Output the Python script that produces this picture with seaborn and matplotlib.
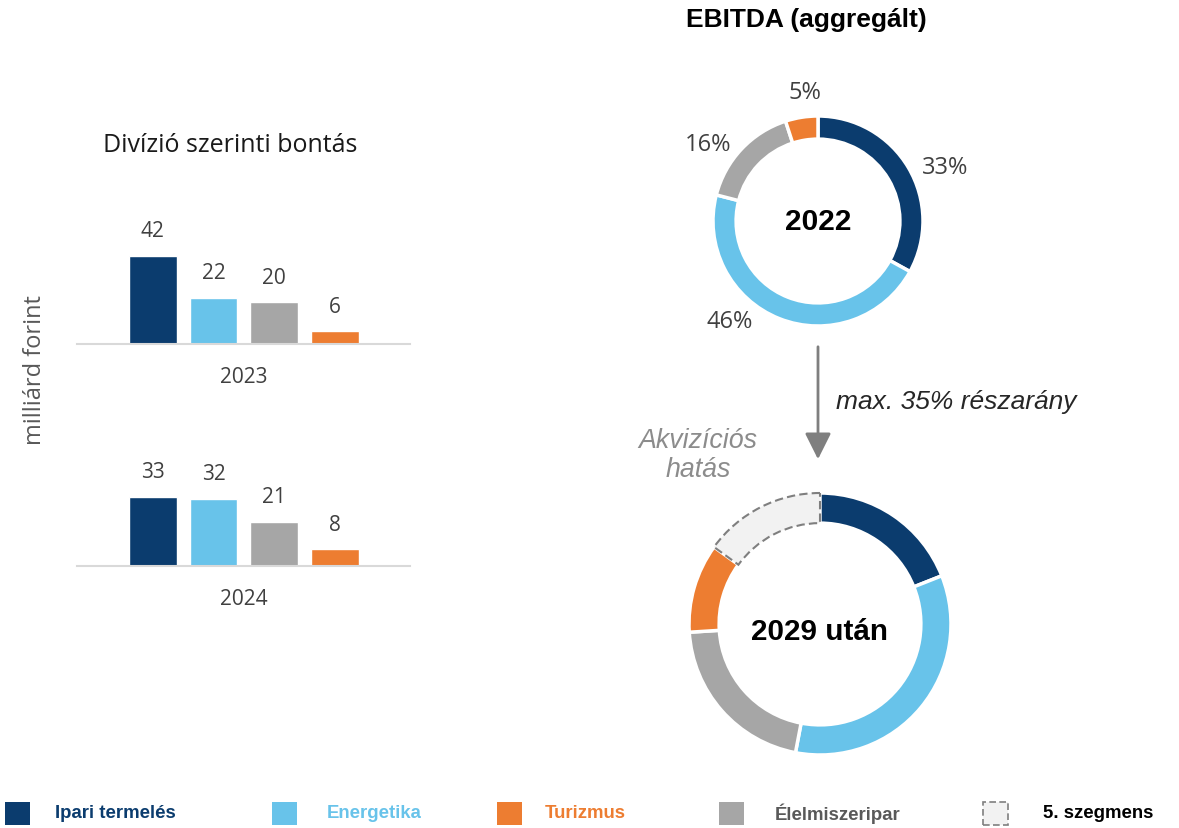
import numpy as np
import pandas as pd
import seaborn as sns
import matplotlib.pyplot as plt
from matplotlib.patches import Rectangle, FancyArrowPatch

# figure size in pixels (dpi 100)
W, H = 1179, 829

# data
divisions = ['Ipari termelés', 'Energetika', 'Élelmiszeripar', 'Turizmus']
values_2023 = [42, 22, 20, 6]
values_2024 = [33, 32, 21, 8]

ebitda_2022 = [33, 46, 16, 5]
ebitda_2022_labels = ['33%', '46%', '16%', '5%']
ebitda_2029 = [19, 34, 21, 11, 15]   # estimated from the ring, last one = 5. szegmens

legend_labels = ['Ipari termelés', 'Energetika', 'Turizmus', 'Élelmiszeripar', '5. szegmens']

# colours
NAVY, LBLUE, GRAY, ORANGE, LIGHT = '#0b3c6e', '#68c3ea', '#a6a6a6', '#ed7d31', '#f2f2f2'
pal = {'Ipari termelés': NAVY, 'Energetika': LBLUE, 'Élelmiszeripar': GRAY, 'Turizmus': ORANGE}

sns.set_style('white')
plt.rcParams['font.family'] = ['Open Sans', 'DejaVu Sans']

fig = plt.figure(figsize=(W / 100, H / 100), dpi=100)


def fx(px):
    return px / W


def fy(py):
    return 1 - py / H


# ---- bar panels ----
def bar_panel(base_y, vals, year):
    ax = fig.add_axes([fx(77), fy(base_y), 333 / W, 105 / H])
    df = pd.DataFrame({'div': divisions, 'val': vals})
    sns.barplot(data=df, x='div', y='val', hue='div', palette=pal, width=0.79,
                saturation=1, legend=False, ax=ax)
    ax.set_xlim(-1.25, 4.24)
    ax.set_ylim(0, 50)
    for s in ['top', 'left', 'right']:
        ax.spines[s].set_visible(False)
    ax.spines['bottom'].set_color('#d9d9d9')
    ax.spines['bottom'].set_linewidth(1.5)
    ax.set_xticks([])
    ax.set_yticks([])
    ax.set_xlabel('')
    ax.set_ylabel('')
    ax.patch.set_alpha(0)
    for p, v in zip(ax.patches, vals):
        ax.annotate(str(v), (p.get_x() + p.get_width() / 2, p.get_height()),
                    xytext=(0, 18), textcoords='offset points', ha='center', va='center',
                    fontsize=15, color='#404040')
    ax.text(0.5, -0.314, year, transform=ax.transAxes, ha='center', va='center',
            fontsize=15, color='#404040')
    return ax


bar_panel(345, values_2023, '2023')
bar_panel(567, values_2024, '2024')

fig.text(fx(230), fy(145), 'Divízió szerinti bontás', ha='center', va='center',
         fontsize=18, color='#1a1a1a')
fig.text(fx(35), fy(370), 'milliárd forint', ha='center', va='center', rotation=90,
         fontsize=17, color='#595959')


# ---- donuts ----
def donut(cx, cy, R, vals, cols, width):
    ax = fig.add_axes([fx(cx - R), fy(cy + R), 2 * R / W, 2 * R / H])
    wedges, _ = ax.pie(vals, colors=cols, startangle=90, counterclock=False, radius=1,
                       wedgeprops=dict(width=width, edgecolor='white', linewidth=2.5))
    ax.set_xlim(-1, 1)
    ax.set_ylim(-1, 1)
    ax.axis('off')
    return ax, wedges


ax1, w1 = donut(818, 222, 105, ebitda_2022, [NAVY, LBLUE, GRAY, ORANGE], 0.22)
ax1.text(0, 0, '2022', ha='center', va='center', fontsize=21.5, fontweight='bold',
         family='Liberation Sans', color='black')
label_pos = [(1.21, 0.51), (-0.84, -0.95), (-1.05, 0.73), (-0.12, 1.23)]
for (x, y), lab in zip(label_pos, ebitda_2022_labels):
    ax1.text(x, y, lab, ha='center', va='center', fontsize=17, color='#404040', clip_on=False)

ax2, w2 = donut(820, 625, 131, ebitda_2029, [NAVY, LBLUE, GRAY, ORANGE, LIGHT], 0.23)
w2[-1].set_edgecolor('#7f7f7f')
w2[-1].set_linestyle((0, (4, 2)))
w2[-1].set_linewidth(1.5)
w2[-1].set_zorder(5)
ax2.text(0, -0.05, '2029 után', ha='center', va='center', fontsize=21.3, fontweight='bold',
         family='Liberation Sans', color='black')

fig.text(fx(806), fy(20), 'EBITDA (aggregált)', ha='center', va='center', fontsize=19,
         fontweight='bold', family='Liberation Sans', color='black')

# arrow between the donuts
arrow = FancyArrowPatch((fx(818), fy(345)), (fx(818), fy(463)), transform=fig.transFigure,
                        arrowstyle='-|>,head_length=1.0,head_width=0.5', mutation_scale=16,
                        color='#7f7f7f', linewidth=2)
fig.add_artist(arrow)
fig.text(fx(836), fy(402), 'max. 35% részarány', ha='left', va='center', fontsize=19,
         style='italic', family='Liberation Sans', color='#262626')
fig.text(fx(698), fy(456), 'Akvizíciós\nhatás', ha='center', va='center', fontsize=19.3,
         style='italic', family='Liberation Sans', color='#8c8c8c', linespacing=1.15)

# ---- legend ----
leg_colors = [NAVY, LBLUE, ORANGE, GRAY, LIGHT]
leg_text_colors = [NAVY, LBLUE, ORANGE, '#595959', 'black']
leg_box_x = [5, 272, 497, 719, 983]
leg_text_x = [55, 327, 545, 775, 1043]
for lab, c, tc, bx, tx in zip(legend_labels, leg_colors, leg_text_colors, leg_box_x, leg_text_x):
    if lab == '5. szegmens':
        rect = Rectangle((fx(bx), fy(826)), 25 / W, 23 / H, transform=fig.transFigure,
                         facecolor=c, edgecolor='#7f7f7f', linestyle=(0, (4, 2)), linewidth=1.2)
    else:
        rect = Rectangle((fx(bx), fy(826)), 25 / W, 23 / H, transform=fig.transFigure,
                         facecolor=c, edgecolor='none')
    fig.add_artist(rect)
    fig.text(fx(tx), fy(814), lab, ha='left', va='center', fontsize=13.4, fontweight='bold',
             family='Liberation Sans', color=tc)

fig.savefig('out.png', dpi=100)
